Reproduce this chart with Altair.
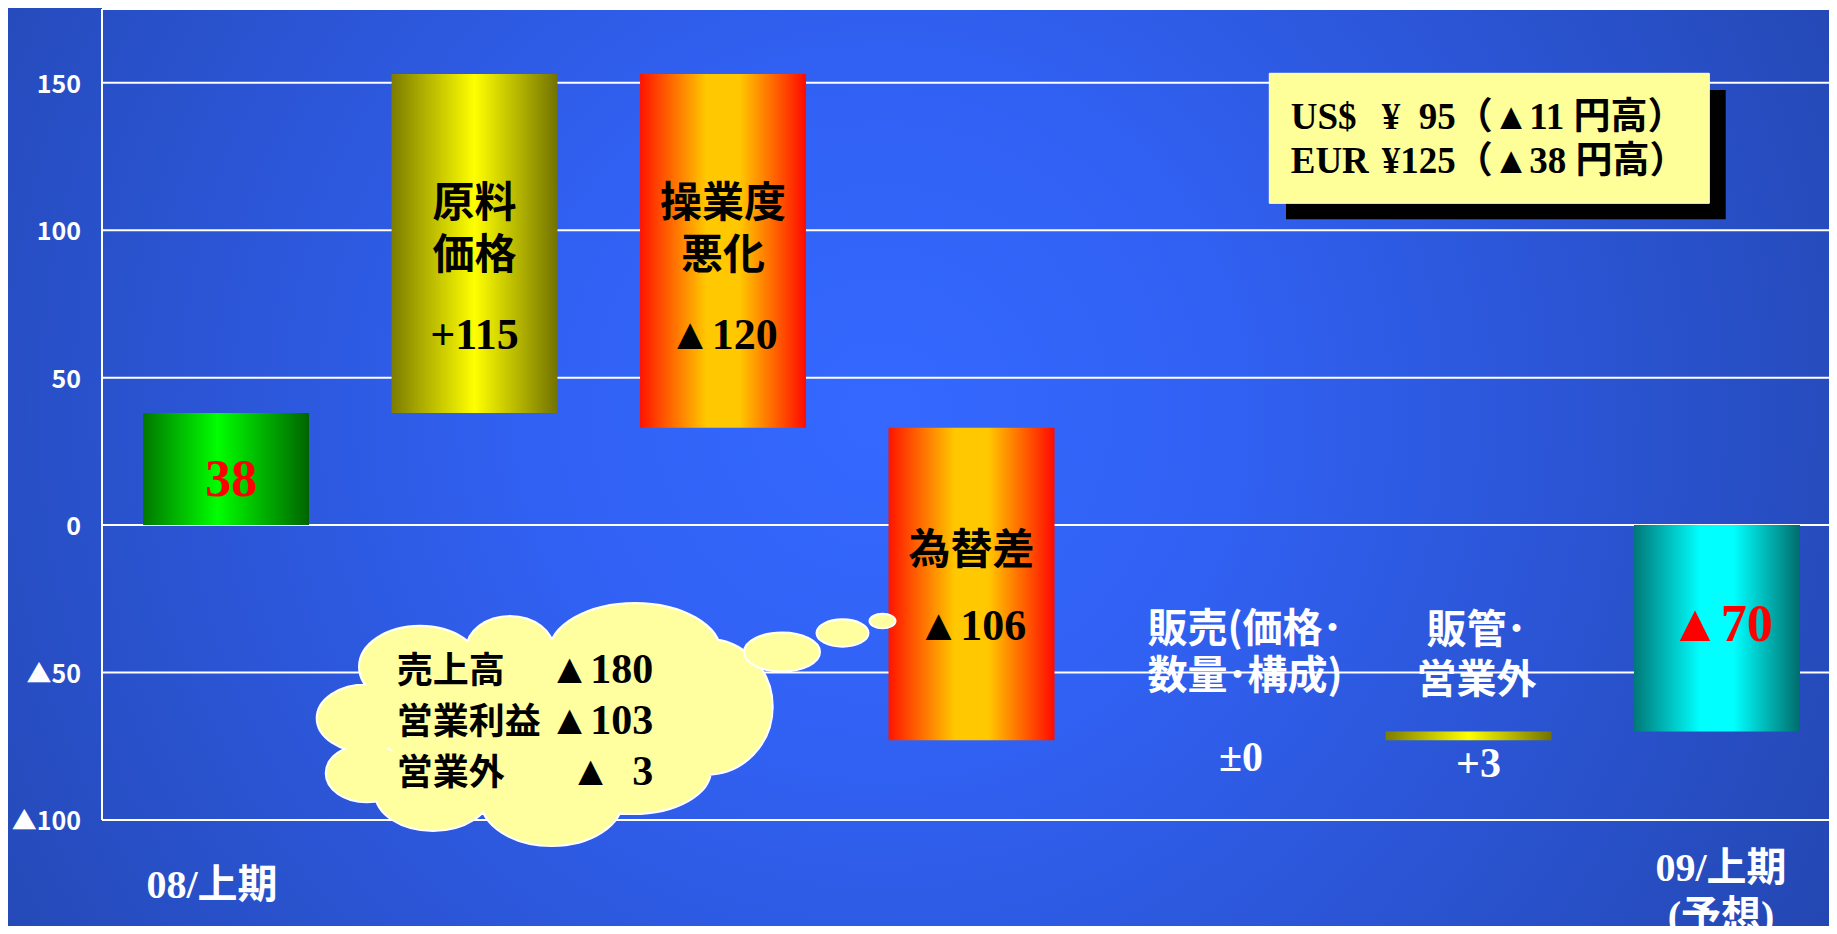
import altair as alt
import pandas as pd

# ---------------- values ----------------
categories = ["08/上期", "原料価格", "操業度悪化", "為替差",
              "販売(価格・数量・構成)", "販管・営業外", "09/上期(予想)"]
changes = [38, 115, -120, -106, 0, 3, -70]
is_total = [True, False, False, False, False, False, True]
bar_names = ["", "原料\n価格", "操業度\n悪化", "為替差",
             "販売(価格･\n数量･構成)", "販管･\n営業外", ""]
period_names = ["08/上期", "", "", "", "", "", "09/上期\n(予想)"]
y_ticks = [-100, -50, 0, 50, 100, 150]
y_min, y_max = -100, 175
fx_currency = ["US$", "EUR"]
fx_rate = [95, 125]
fx_change = [-11, -38]
sales_items = ["売上高", "営業利益", "営業外"]
sales_values = [-180, -103, -3]

TRI = "▲"
NB = "\u00a0"


def fmt_value(v, total):
    if v < 0:
        return TRI + str(-v)
    if total:
        return str(v)
    if v == 0:
        return "±0"
    return "+" + str(v)


lo, hi = [], []
level = 0
for v, tot in zip(changes, is_total):
    start = 0 if tot else level
    end = v if tot else level + v
    lo.append(min(start, end))
    hi.append(max(start, end))
    level = end

df = pd.DataFrame({
    "idx": list(range(len(categories))),
    "cat": categories,
    "lo": lo,
    "hi": hi,
    "name": bar_names,
    "value": [fmt_value(v, t) for v, t in zip(changes, is_total)],
    "period": period_names,
})
df["mid"] = (df["lo"] + df["hi"]) / 2

# tick labels, anchored to the first category column and shifted left onto the axis
ticks_df = pd.DataFrame({
    "cat": [categories[0]] * len(y_ticks),
    "v": y_ticks,
    "lab": [(TRI + str(-t)) if t < 0 else str(t) for t in y_ticks],
})
frame_df = pd.DataFrame({"v": y_ticks + [y_max]})

sales_left = "\n".join(sales_items)
sales_right = "\n".join(TRI + NB * (3 - len(str(-v))) + str(-v) for v in sales_values)
fx_left = "\n".join(fx_currency)
fx_right = "\n".join("¥" + NB * 2 * (3 - len(str(r))) + str(r) + "（" + TRI + str(-c) + " 円高）"
                     for r, c in zip(fx_rate, fx_change))

# ---------------- layout / style ----------------
W, H = 1727, 811
PAD = {"left": 94, "top": 1, "right": 0, "bottom": 106}
OX, OY = 102, 9   # reference position of the plot origin, for pixel decorations
FIRST_BAND_CENTER = 124.1  # plot-x of the first band centre (from the band scale below)


def px(x):
    return x - OX


def py(y):
    return y - OY


SERIF = "Liberation Serif, Noto Sans CJK JP"
GOTHIC = "Noto Sans CJK JP"


def lin(stops):
    return {"gradient": "linear", "x1": 0, "y1": 0, "x2": 1, "y2": 0,
            "stops": [{"offset": o, "color": c} for o, c in stops]}


GRAD = {
    "green": lin([(0, "#007800"), (0.45, "#00ff00"), (1, "#006400")]),
    "yellow": lin([(0, "#7c7c00"), (0.5, "#ffff00"), (1, "#727200")]),
    "orange": lin([(0, "#ff1400"), (0.4, "#ffc800"), (0.6, "#ffc800"), (1, "#ff0a00")]),
    "cyan": lin([(0, "#007878"), (0.4, "#00ffff"), (0.6, "#00ffff"), (1, "#006c6c")]),
}
BAR_STYLE = {"green": [0], "yellow": [1, 5], "orange": [2, 3], "cyan": [6]}

BG = {"gradient": "radial", "x1": 0.48, "y1": 0.47, "r1": 0,
      "x2": 0.48, "y2": 0.47, "r2": 0.64,
      "stops": [{"offset": 0, "color": "#3468ff"},
                {"offset": 0.3, "color": "#3161f3"},
                {"offset": 1, "color": "#2244aa"}]}

XS = alt.Scale(domain=categories, paddingInner=0.332, paddingOuter=0.141,
               align=0.586, round=False)
YS = alt.Scale(domain=[y_min, y_max], nice=False, zero=False)
X = alt.X("cat:N", scale=XS, axis=None)

one = pd.DataFrame({"k": [0]})


def sel(ids):
    return alt.Chart(df).transform_filter(alt.FieldOneOfPredicate(field="idx", oneOf=ids))


def label(ids, field, anchor, dy=0, dx=0, size=42, color="black", font=SERIF, lh=None):
    mk = dict(align="center", baseline="middle", dx=dx, dy=dy, fontSize=size,
              fontWeight="bold", color=color, font=font, lineBreak="\n")
    if lh:
        mk["lineHeight"] = lh
    return sel(ids).mark_text(**mk).encode(
        x=X, y=alt.Y(f"{anchor}:Q", scale=YS, axis=None), text=f"{field}:N")


def free_text(text, x, y, size, font, align="left", color="black", lh=None):
    mk = dict(text=text, align=align, baseline="middle", fontSize=size, fontWeight="bold",
              color=color, font=font, lineBreak="\n")
    if lh:
        mk["lineHeight"] = lh
    return alt.Chart(one).mark_text(**mk).encode(x=alt.value(px(x)), y=alt.value(py(y)))


def pixel_rect(x1, x2, y1, y2, **mark):
    return alt.Chart(one).mark_rect(**mark).encode(
        x=alt.value(x1), x2=alt.value(x2), y=alt.value(y1), y2=alt.value(y2))


# background
bg = pixel_rect(-PAD["left"], W + PAD["right"], -PAD["top"], H + PAD["bottom"], fill=BG)

# gridlines + frame
grid = alt.Chart(frame_df).mark_rule(color="white", strokeWidth=2).encode(
    y=alt.Y("v:Q", scale=YS, axis=alt.Axis(labels=False, ticks=False, domain=False,
                                           grid=False, title=None)))
left_frame = pixel_rect(-1, 1, 0, H, fill="white")
ytext = alt.Chart(ticks_df).mark_text(
    align="right", baseline="middle", font=GOTHIC, fontSize=25,
    fontWeight="bold", color="white", dy=2, dx=-(FIRST_BAND_CENTER + 21)).encode(
    x=X, y=alt.Y("v:Q", scale=YS, axis=None), text="lab:N")

bars = [sel(ids).mark_bar(fill=GRAD[k]).encode(
    x=X, y=alt.Y("lo:Q", scale=YS, axis=None), y2="hi:Q")
    for k, ids in BAR_STYLE.items()]

# thought cloud (decoration)
CX, CY = 540, 725
cloud_lobes = [(366.7, 718.3, 49, 33), (420, 666.7, 60, 40), (510, 650, 43, 33),
               (635, 653, 85, 49), (706.7, 706.7, 65, 67), (633, 770, 77, 43),
               (551.7, 800, 70, 45), (433, 793, 57, 37), (366.7, 773.3, 40, 28),
               (540, 720, 160, 80)]
bubbles = [(782, 652, 38, 19.5), (842.5, 633, 26, 13.7), (882.5, 621, 13, 7.2)]


def ellipses(lst):
    parts = []
    for cx, cy, rx, ry in lst:
        x0, y0 = cx - CX, cy - CY
        parts.append(f"M{x0 - rx:.1f},{y0:.1f}A{rx},{ry} 0 1,0 {x0 + rx:.1f},{y0:.1f}"
                     f"A{rx},{ry} 0 1,0 {x0 - rx:.1f},{y0:.1f}Z")
    return "".join(parts)


CLOUD_FILL = "#ffffa0"
cloud_pos = dict(x=alt.value(px(CX)), y=alt.value(py(CY)))
cloud_out = alt.Chart(one).mark_point(
    shape=ellipses(cloud_lobes), size=4, filled=True, fill=CLOUD_FILL,
    stroke="white", strokeWidth=4, opacity=1).encode(**cloud_pos)
cloud_in = alt.Chart(one).mark_point(
    shape=ellipses(cloud_lobes), size=4, filled=True, fill=CLOUD_FILL,
    strokeWidth=0, opacity=1).encode(**cloud_pos)
cloud_bub = alt.Chart(one).mark_point(
    shape=ellipses(bubbles), size=4, filled=True, fill=CLOUD_FILL,
    stroke="white", strokeWidth=2, opacity=1).encode(**cloud_pos)

# exchange-rate box (decoration)
shadow = pixel_rect(px(1286), px(1725.7), py(90), py(219.3), color="black")
box = pixel_rect(px(1269.3), px(1709.3), py(73.3), py(203.3),
                 fill="#ffff99", stroke="white", strokeWidth=1)

labels = [
    label([0], "value", "mid", dy=11, dx=5, size=52, color="red"),
    label([6], "value", "mid", dy=-3, dx=4, size=52, color="red"),
    label([1, 2], "name", "hi", dy=130.5, size=42, font=GOTHIC, lh=52),
    label([1, 2], "value", "hi", dy=262, size=44),
    label([3], "name", "hi", dy=123.5, size=42, font=GOTHIC),
    label([3], "value", "hi", dy=199, size=44),
    label([4], "name", "hi", dy=-110, dx=25, size=40, color="white", font=GOTHIC, lh=46.7),
    label([4], "value", "hi", dy=17.6, dx=21, size=42, color="white"),
    label([5], "name", "hi", dy=-101, dx=8, size=40, color="white", font=GOTHIC, lh=50),
    label([5], "value", "hi", dy=32.5, dx=10, size=42, color="white"),
]

periods = [
    sel([0]).mark_text(align="center", baseline="middle", dx=-14, dy=66, fontSize=40,
                       fontWeight="bold", color="white", font=SERIF, lineBreak="\n").encode(
        x=X, y=alt.datum(y_min), text="period:N"),
    sel([6]).mark_text(align="center", baseline="middle", dx=4, dy=49, fontSize=40,
                       fontWeight="bold", color="white", font=SERIF, lineBreak="\n",
                       lineHeight=48.4).encode(
        x=X, y=alt.datum(y_min), text="period:N"),
]

texts = [
    free_text(sales_left, 396.7, 672, 36, GOTHIC, lh=50.8),
    free_text(sales_right, 653.3, 670, 42, SERIF, align="right", lh=50.8),
    free_text(fx_left, 1290.7, 117.5, 37, SERIF, lh=44.2),
    free_text(fx_right, 1381.7, 117.5, 37, SERIF, lh=44.2),
]

chart = alt.layer(
    bg, grid, left_frame, *bars, cloud_out, cloud_in, cloud_bub, shadow, box,
    *labels, *periods, *texts, ytext
).properties(
    width=W, height=H, padding=PAD,
    autosize=alt.AutoSizeParams(type="none"),
    background="#2244aa",
).configure_view(stroke=None)

chart.save("out.html", embed_options={"renderer": "svg", "actions": False})
